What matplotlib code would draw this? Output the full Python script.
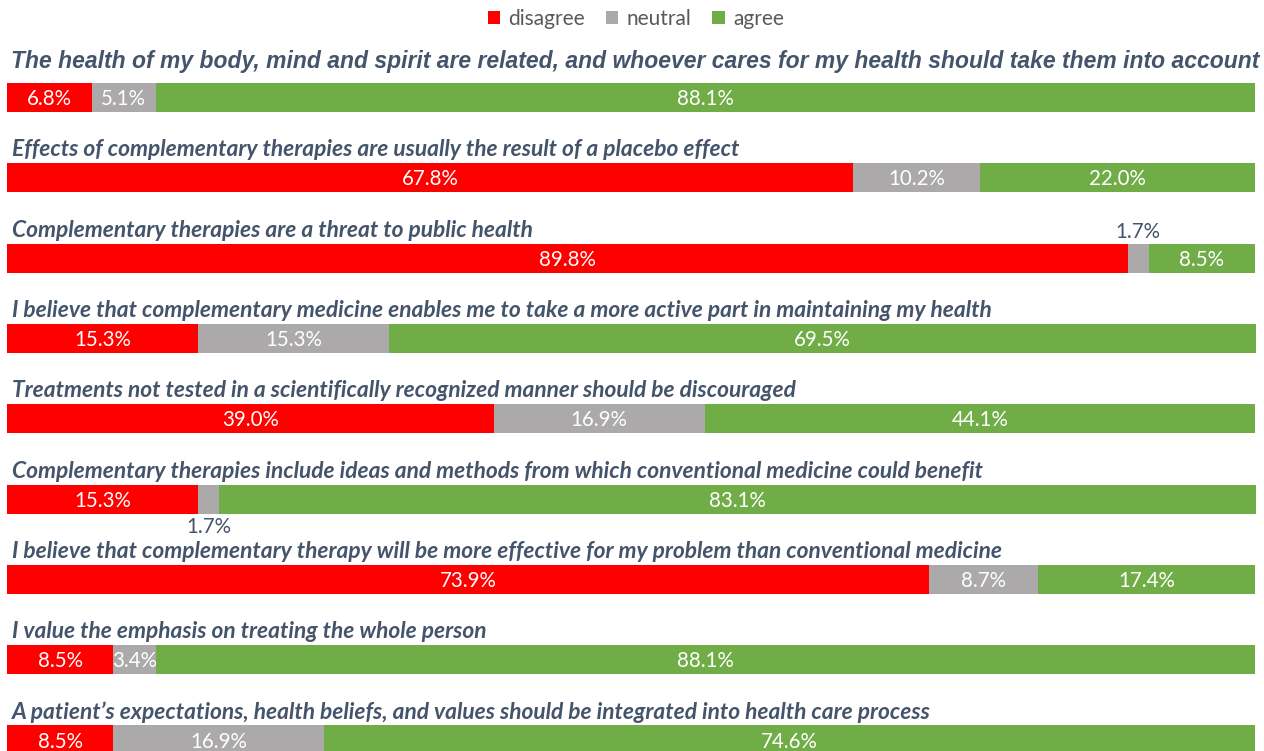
import matplotlib
matplotlib.use("Agg")
import matplotlib.pyplot as plt
from matplotlib.patches import Patch

statements = [
    "The health of my body, mind and spirit are related, and whoever cares for my health should take them into account",
    "Effects of complementary therapies are usually the result of a placebo effect",
    "Complementary therapies are a threat to public health",
    "I believe that complementary medicine enables me to take a more active part in maintaining my health",
    "Treatments not tested in a scientifically recognized manner should be discouraged",
    "Complementary therapies include ideas and methods from which conventional medicine could benefit",
    "I believe that complementary therapy will be more effective for my problem than conventional medicine",
    "I value the emphasis on treating the whole person",
    "A patient\u2019s expectations, health beliefs, and values should be integrated into health care process",
]
disagree = [6.8, 67.8, 89.8, 15.3, 39.0, 15.3, 73.9, 8.5, 8.5]
neutral = [5.1, 10.2, 1.7, 15.3, 16.9, 1.7, 8.7, 3.4, 16.9]
agree = [88.1, 22.0, 8.5, 69.5, 44.1, 83.1, 17.4, 88.1, 74.6]
series_names = ["disagree", "neutral", "agree"]

colors = ["#FF0000", "#ABA9A9", "#70AD47"]
title_color = "#44546A"
label_font = ["Lato", "DejaVu Sans"]

W, H = 1264, 751
fig = plt.figure(figsize=(W / 100, H / 100), dpi=100)
ax = fig.add_axes([0, 0, 1, 1])

px_per_unit = 12.48
left_px = 7
ax.set_xlim(-left_px / px_per_unit, (W - left_px) / px_per_unit)
row_px = 80.3
first_center = 97.5
ax.set_ylim((H - first_center) / row_px, -first_center / row_px)
ax.axis("off")

bar_h = 29 / row_px
series = [disagree, neutral, agree]
for i in range(len(statements)):
    left = 0
    for s, vals in enumerate(series):
        v = vals[i]
        ax.barh(i, v, left=left, height=bar_h, color=colors[s], edgecolor="none")
        cx = left + v / 2
        label = f"{v:.1f}%"
        if v < 3:
            if i == 2:
                ax.text(cx, i - 0.32, label, ha="center", va="center",
                        fontsize=14.8, color=title_color, family=label_font)
            else:
                ax.text(cx, i + 0.35, label, ha="center", va="center",
                        fontsize=14.8, color=title_color, family=label_font)
        else:
            ax.text(cx, i + 0.02, label, ha="center", va="center",
                    fontsize=14.8, color="white", family=label_font)
        left += v

    if i == 0:
        ax.text(4 / px_per_unit, i - 36 / row_px, statements[i], ha="left", va="center",
                fontsize=16.5, fontweight="bold", fontstyle="italic",
                family=["Liberation Sans", "DejaVu Sans"], color=title_color)
    else:
        ax.text(5 / px_per_unit, i - 28 / row_px, statements[i], ha="left", va="center",
                fontsize=16.4, fontweight="bold", fontstyle="italic",
                family=label_font, color=title_color)

handles = [Patch(facecolor=c, edgecolor="none") for c in colors]
leg = fig.legend(handles, series_names, loc="center", bbox_to_anchor=(0.503, 1 - 19 / H),
                 ncol=3, frameon=False, handlelength=0.6, handleheight=0.6,
                 handletextpad=0.4, columnspacing=1.0,
                 prop={"family": label_font, "size": 15})
for t in leg.get_texts():
    t.set_color("#595959")

fig.savefig("out.png", dpi=100)
